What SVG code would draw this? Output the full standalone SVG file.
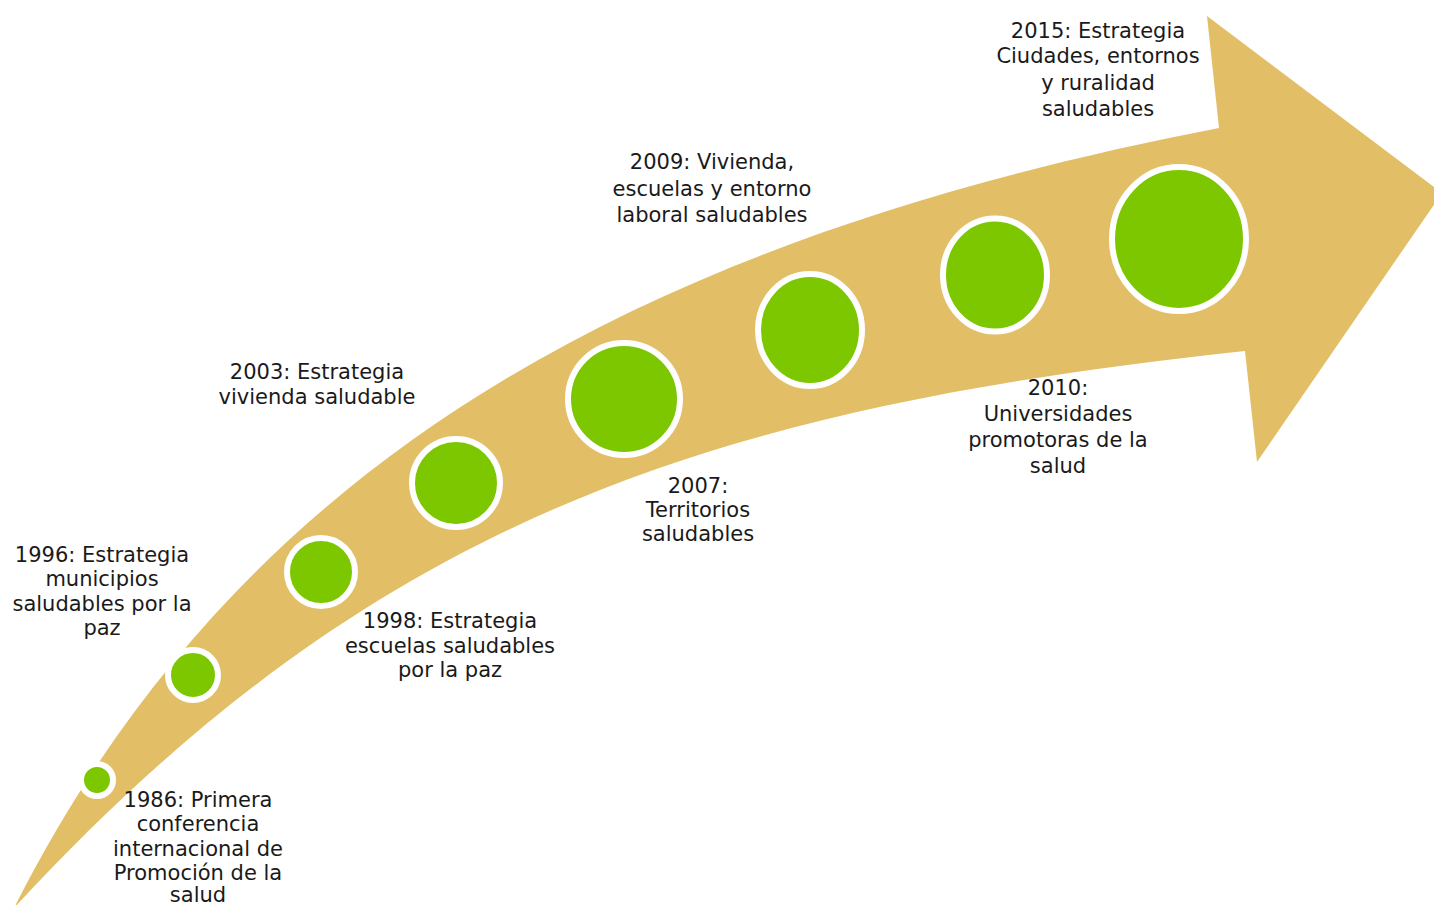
<svg xmlns="http://www.w3.org/2000/svg" width="1434" height="905" viewBox="0 0 1434 905">
<style>
.lbl{font-family:"DejaVu Sans","Liberation Sans",sans-serif;font-size:21px;fill:#1a1a1a;text-anchor:middle}
.dot{fill:#7CC700;stroke:#FFFFFF;stroke-width:6}
</style>
<rect width="1434" height="905" fill="#FFFFFF"/>
<g id="arrow">
<path d="M14,908 C240,460 640,240 1219,128 L1207,16 L1442,193 L1257,462 L1245,351 C720,408 379,512 14,908 Z" fill="#E2BE67"/>
</g>
<g id="connectors"></g>
<g id="n1986"><circle class="dot" cx="97" cy="780" r="16"/>
<text class="lbl"><tspan x="198" y="807">1986: Primera</tspan><tspan x="198" y="831">conferencia</tspan><tspan x="198" y="856">internacional de</tspan><tspan x="198" y="880">Promoción de la</tspan><tspan x="198" y="902">salud</tspan></text></g>
<g id="n1996"><circle class="dot" cx="193" cy="675" r="25"/>
<text class="lbl"><tspan x="102" y="562">1996: Estrategia</tspan><tspan x="102" y="586">municipios</tspan><tspan x="102" y="611">saludables por la</tspan><tspan x="102" y="635">paz</tspan></text></g>
<g id="n1998"><circle class="dot" cx="321" cy="572" r="34"/>
<text class="lbl"><tspan x="450" y="628">1998: Estrategia</tspan><tspan x="450" y="653">escuelas saludables</tspan><tspan x="450" y="677">por la paz</tspan></text></g>
<g id="n2003"><circle class="dot" cx="456" cy="483" r="44"/>
<text class="lbl"><tspan x="317" y="379">2003: Estrategia</tspan><tspan x="317" y="404">vivienda saludable</tspan></text></g>
<g id="n2007"><circle class="dot" cx="624" cy="399" r="56"/>
<text class="lbl"><tspan x="698" y="493">2007:</tspan><tspan x="698" y="517">Territorios</tspan><tspan x="698" y="541">saludables</tspan></text></g>
<g id="n2009"><ellipse class="dot" cx="810" cy="330" rx="52" ry="56"/>
<text class="lbl"><tspan x="712" y="169">2009: Vivienda,</tspan><tspan x="712" y="196">escuelas y entorno</tspan><tspan x="712" y="222">laboral saludables</tspan></text></g>
<g id="n2010"><ellipse class="dot" cx="995" cy="275" rx="52" ry="56.5"/>
<text class="lbl"><tspan x="1058" y="395">2010:</tspan><tspan x="1058" y="421">Universidades</tspan><tspan x="1058" y="447">promotoras de la</tspan><tspan x="1058" y="473">salud</tspan></text></g>
<g id="n2015"><ellipse class="dot" cx="1179" cy="239" rx="67" ry="72"/>
<text class="lbl"><tspan x="1098" y="38">2015: Estrategia</tspan><tspan x="1098" y="63">Ciudades, entornos</tspan><tspan x="1098" y="90">y ruralidad</tspan><tspan x="1098" y="116">saludables</tspan></text></g>
</svg>
